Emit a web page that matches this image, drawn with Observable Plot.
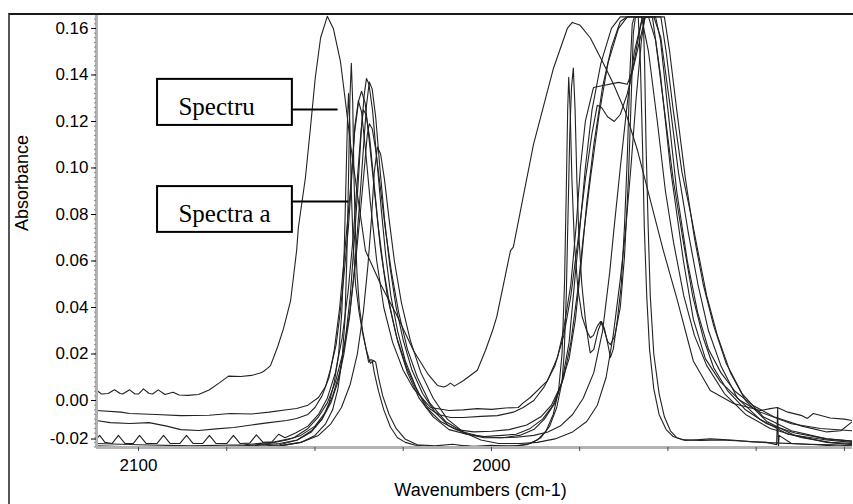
<!DOCTYPE html>
<html><head><meta charset="utf-8">
<script src="https://cdn.jsdelivr.net/npm/d3@7"></script>
<script src="https://cdn.jsdelivr.net/npm/@observablehq/plot@0.6"></script>
<style>
body{margin:0;background:#fff;}
#wrap{position:relative;width:853px;height:504px;overflow:hidden;background:#fff;}
#frame{position:absolute;left:8px;top:13px;width:845px;height:491px;border-top:2px solid #1a1a1a;border-left:2px solid #555;pointer-events:none;box-sizing:border-box;}
</style></head><body><div id="wrap"><div id="frame"></div></div>
<script>
// ---- data: [wavenumber (cm-1), absorbance] ----
const s0 = [[2111.9,0.0045],[2110.5,0.0028],[2108.6,0.0030],[2106.8,0.0046],[2105.2,0.0030],[2104.5,0.0028],[2102.5,0.0046],[2101,0.0028],[2100,0.0028],[2098.6,0.0050],[2097,0.0030],[2096,0.0028],[2094.4,0.0046],[2092.5,0.0026],[2090.2,0.0036],[2088.5,0.0024],[2086,0.0022],[2083,0.0026],[2080,0.0045],[2077,0.0077],[2074.5,0.0105],[2071,0.0103],[2068,0.0108],[2065.5,0.0118],[2064.6,0.0125],[2063.5,0.0138],[2062.6,0.015],[2060.6,0.023],[2058.9,0.031],[2056.9,0.043],[2056.1,0.053],[2055.2,0.0645],[2054.7,0.0744],[2052.7,0.0959],[2051.3,0.117],[2049.9,0.139],[2048.4,0.156],[2046.5,0.1652],[2044.8,0.160],[2042.8,0.146],[2041.4,0.129],[2039.9,0.110],[2038.0,0.089],[2035.7,0.0645],[2031.4,0.050],[2026.6,0.036],[2022.1,0.0215],[2018.1,0.0116],[2015.3,0.0065],[2013.5,0.0058],[2012.5,0.0065],[2011.6,0.0075],[2010.5,0.0062],[2007.9,0.0086],[2004,0.013],[2001.7,0.0215],[1999.7,0.030],[1998.5,0.036],[1994.6,0.0645],[1993.8,0.066],[1988.1,0.11],[1982.4,0.143],[1978.5,0.160],[1977.1,0.1626],[1975,0.1615],[1972,0.156],[1968.3,0.145],[1965.4,0.136],[1962,0.124],[1958.6,0.1075],[1951.3,0.0645],[1947.3,0.043],[1942.8,0.017],[1938,0.0043],[1931.4,-0.0013],[1923.8,-0.0043],[1921,-0.0035],[1919,-0.003],[1916,-0.005],[1912,-0.0065],[1910.5,-0.0077],[1908.8,-0.0056],[1904,-0.0075],[1900,-0.008],[1897.7,-0.0086]];

const s1 = [[2111.9,-0.0043],[2105,-0.0050],[2102.5,-0.0056],[2095,-0.0060],[2088,-0.0065],[2080,-0.0063],[2074,-0.0056],[2068,-0.0058],[2063,-0.0050],[2058,-0.0040],[2055.2,-0.0034],[2052,-0.0020],[2049,0.0013],[2047,0.006],[2045.5,0.014],[2044,0.024],[2043,0.036],[2041.9,0.052],[2040.5,0.075],[2039.5,0.098],[2038.7,0.118],[2037.7,0.129],[2036.8,0.124],[2035.7,0.108],[2034.3,0.085],[2032.5,0.060],[2030.5,0.040],[2028,0.025],[2025,0.013],[2022,0.005],[2019,0.0],[2017.3,-0.003],[2012,-0.0043],[2008,-0.0040],[2004,-0.0035],[2000,-0.0038],[1996,-0.0032],[1992.4,-0.0030],[1991,-0.001],[1989,0.0013],[1984.1,0.0086],[1981.3,0.0185],[1979.6,0.030],[1977.5,0.05],[1976,0.075],[1974.8,0.10],[1973.4,0.12],[1971.1,0.1346],[1968.3,0.1355],[1964,0.1368],[1961.5,0.136],[1960,0.142],[1958.5,0.155],[1957.2,0.165],[1954.4,0.165],[1952.1,0.14],[1949.3,0.10],[1945.6,0.06],[1942.8,0.035],[1939.4,0.018],[1935.1,0.008],[1929.5,0.0],[1923.8,-0.005],[1915,-0.010],[1906.8,-0.012],[1897.7,-0.013]];

const s2 = [[2111.9,-0.0086],[2108,-0.0095],[2102.5,-0.0099],[2097,-0.0095],[2092,-0.011],[2088,-0.0125],[2083,-0.0129],[2078,-0.0122],[2073,-0.0116],[2068,-0.0105],[2063,-0.0095],[2058,-0.0086],[2055.2,-0.0077],[2052,-0.006],[2050,-0.003],[2048,0.002],[2046,0.010],[2044.5,0.022],[2043,0.040],[2041.5,0.065],[2040,0.090],[2038.8,0.115],[2037.6,0.129],[2036.8,0.133],[2035.8,0.128],[2034.5,0.110],[2033,0.088],[2031.5,0.066],[2029.5,0.045],[2027,0.028],[2024,0.014],[2021,0.004],[2018,-0.003],[2015,-0.0060],[2011.6,-0.0073],[2007.9,-0.0073],[2003,-0.0068],[1998.3,-0.0065],[1993.8,-0.0050],[1991,-0.003],[1988,0.0],[1985,0.006],[1982,0.015],[1979.5,0.028],[1977.5,0.045],[1975.4,0.070],[1973.4,0.095],[1971.5,0.115],[1970,0.127],[1968.8,0.126],[1967.1,0.122],[1965.2,0.120],[1963.5,0.123],[1961.5,0.132],[1959.5,0.145],[1957.5,0.158],[1956.4,0.165],[1953.5,0.165],[1952.1,0.155],[1950,0.125],[1947.5,0.09],[1944.5,0.06],[1941.6,0.038],[1938.5,0.022],[1935,0.012],[1931,0.004],[1926,-0.002],[1920,-0.007],[1912,-0.011],[1905,-0.0135],[1901,-0.013],[1897.7,-0.009]];

const s3 = [[2111.9,-0.0195],[2100,-0.020],[2090,-0.0205],[2080,-0.0200],[2070,-0.0195],[2063,-0.0185],[2058,-0.0170],[2054,-0.0150],[2050,-0.0110],[2047,-0.005],[2045,0.002],[2043,0.012],[2041.4,0.026],[2040,0.045],[2038.8,0.070],[2037.7,0.095],[2036.8,0.118],[2036,0.132],[2035.4,0.1385],[2034.7,0.136],[2033.7,0.125],[2032.5,0.104],[2031.2,0.082],[2030,0.063],[2028.5,0.045],[2026.6,0.030],[2024.4,0.017],[2021.5,0.006],[2018.5,-0.003],[2014.4,-0.009],[2010,-0.0125],[2005,-0.0135],[2000,-0.0132],[1995,-0.0125],[1990,-0.0105],[1986,-0.007],[1983,-0.002],[1980.5,0.006],[1978,0.018],[1976.2,0.035],[1974.5,0.060],[1973,0.085],[1971,0.110],[1968.5,0.135],[1966,0.152],[1963.5,0.163],[1961.5,0.165],[1955.5,0.165],[1953.5,0.155],[1951,0.125],[1948.5,0.095],[1945.6,0.068],[1943,0.045],[1940,0.027],[1937,0.014],[1933,0.004],[1928,-0.004],[1922,-0.010],[1914,-0.014],[1905,-0.0165],[1897.7,-0.0175]];

const s4 = [[2111.9,-0.0205],[2095,-0.021],[2080,-0.0208],[2068,-0.020],[2060,-0.019],[2055,-0.017],[2051,-0.013],[2048,-0.008],[2045.5,-0.001],[2043.5,0.008],[2041.8,0.020],[2040.2,0.036],[2038.8,0.057],[2037.5,0.082],[2036.3,0.108],[2035.4,0.127],[2034.6,0.137],[2033.8,0.134],[2032.8,0.122],[2031.6,0.100],[2030.3,0.078],[2028.8,0.058],[2027,0.040],[2025,0.026],[2022.5,0.013],[2019.5,0.003],[2016,-0.005],[2012,-0.011],[2007,-0.0145],[2002,-0.016],[1997,-0.016],[1992,-0.0150],[1988,-0.0125],[1985,-0.008],[1982,-0.001],[1979.5,0.010],[1977.5,0.025],[1975.5,0.048],[1974,0.070],[1972,0.095],[1969.5,0.123],[1967,0.145],[1964,0.160],[1961.5,0.165],[1954,0.165],[1952,0.156],[1949.5,0.128],[1947,0.098],[1944.2,0.072],[1941.5,0.050],[1938.5,0.030],[1935,0.015],[1930.3,0.001],[1924,-0.008],[1916,-0.0145],[1905,-0.017],[1897.7,-0.018]];

const s5 = [[2111.9,-0.0185],[2100,-0.019],[2085,-0.0195],[2070,-0.019],[2062,-0.018],[2056,-0.016],[2052,-0.012],[2049,-0.007],[2046.5,-0.001],[2044.2,0.008],[2042,0.021],[2040.2,0.037],[2038.6,0.058],[2037.2,0.080],[2036,0.100],[2035.2,0.114],[2034.6,0.119],[2033.8,0.117],[2032.8,0.108],[2031.5,0.092],[2030,0.073],[2028.3,0.055],[2026.3,0.038],[2023.8,0.022],[2021,0.010],[2017.5,-0.001],[2013,-0.009],[2008,-0.0135],[2003,-0.0155],[1998,-0.016],[1993,-0.0158],[1988,-0.015],[1984,-0.0135],[1980.5,-0.011],[1977,-0.006],[1974,0.001],[1971,0.012],[1968.5,0.030],[1966.5,0.055],[1965.2,0.075],[1963.5,0.100],[1961.5,0.128],[1959.5,0.150],[1957.5,0.163],[1956.4,0.165],[1951,0.165],[1949.5,0.150],[1947.5,0.125],[1945,0.095],[1942.5,0.070],[1940,0.050],[1937,0.032],[1933.5,0.016],[1929,0.003],[1923,-0.007],[1915,-0.013],[1905,-0.0165],[1897.7,-0.0175]];

const s6 = [[2111.9,-0.020],[2100,-0.0205],[2085,-0.0210],[2070,-0.0205],[2060,-0.0195],[2054,-0.0180],[2049,-0.015],[2045.5,-0.010],[2042.5,-0.003],[2040,0.007],[2038,0.020],[2036.3,0.038],[2035,0.058],[2034,0.078],[2033.2,0.098],[2032.3,0.109],[2031.4,0.106],[2030.3,0.095],[2029,0.078],[2027.5,0.060],[2025.5,0.042],[2023,0.026],[2020,0.012],[2016.5,0.001],[2012.5,-0.008],[2008,-0.0135],[2003,-0.017],[1998,-0.0185],[1992,-0.0185],[1987,-0.018],[1982,-0.0165],[1977,-0.0135],[1973,-0.009],[1970,-0.002],[1967.5,0.010],[1965.5,0.028],[1963.5,0.052],[1962,0.073],[1960.5,0.100],[1959,0.130],[1957.5,0.155],[1956.5,0.165],[1952,0.165],[1950.5,0.150],[1948.5,0.125],[1946,0.098],[1943.5,0.080],[1941.6,0.065],[1939,0.045],[1936,0.028],[1932.3,0.012],[1928,0.0],[1922,-0.009],[1914,-0.015],[1905,-0.018],[1897.7,-0.019]];

const s7 = [[2111.9,-0.021],[2095,-0.0215],[2080,-0.021],[2068,-0.0205],[2060,-0.0195],[2054,-0.018],[2050,-0.015],[2047,-0.010],[2045,-0.004],[2043.5,0.005],[2042.3,0.018],[2041.5,0.035],[2041,0.060],[2040.5,0.095],[2040.1,0.130],[2039.7,0.145],[2039.3,0.128],[2039,0.100],[2038.6,0.075],[2038.1,0.055],[2037.4,0.040],[2036.5,0.030],[2035.5,0.022],[2034.8,0.0165],[2034.3,0.0175],[2033.8,0.0175],[2033.2,0.012],[2032,0.004],[2030.5,-0.004],[2028.6,-0.0115],[2026.6,-0.016],[2024.4,-0.018],[2021.5,-0.0192],[2017,-0.0198],[2012,-0.0200],[2007,-0.0195],[2003,-0.0200],[1998,-0.0195],[1993,-0.0195],[1989,-0.0185],[1986,-0.016],[1983.5,-0.011],[1981.5,-0.003],[1980,0.008],[1979.4,0.02],[1978.8,0.045],[1978.3,0.080],[1977.8,0.115],[1977.3,0.135],[1976.8,0.143],[1976.3,0.125],[1975.8,0.095],[1975.2,0.070],[1974.4,0.050],[1973.4,0.035],[1972.4,0.024],[1972,0.0205],[1971,0.022],[1969.8,0.030],[1968.8,0.034],[1968,0.031],[1967,0.024],[1966.3,0.0185],[1965.5,0.022],[1964.3,0.035],[1963.2,0.050],[1962.3,0.075],[1961.5,0.105],[1960.8,0.140],[1960.1,0.162],[1959.5,0.165],[1958.4,0.165],[1957.8,0.145],[1957.2,0.110],[1956.7,0.075],[1956,0.045],[1955.2,0.022],[1954,0.005],[1952.5,-0.006],[1950.5,-0.0125],[1948.5,-0.0155],[1946,-0.0168],[1940.8,-0.0172],[1935,-0.017],[1928,-0.0175],[1922,-0.018],[1919.2,-0.019],[1918.9,-0.003],[1918.7,-0.0205],[1918.5,-0.015],[1915,-0.0185],[1908,-0.019],[1903,-0.0195],[1897.7,-0.020]];

const s8 = [[2111.9,-0.0200],[2095,-0.0205],[2080,-0.0200],[2068,-0.0195],[2060,-0.0185],[2055,-0.017],[2051,-0.0135],[2048,-0.008],[2046,-0.001],[2044.5,0.008],[2043.3,0.020],[2042.4,0.038],[2041.7,0.065],[2041.2,0.095],[2040.8,0.120],[2040.5,0.132],[2040.1,0.118],[2039.7,0.090],[2039.2,0.068],[2038.5,0.050],[2037.5,0.038],[2036.5,0.029],[2035.5,0.022],[2034.3,0.016],[2033.4,0.0172],[2032.8,0.0165],[2032,0.010],[2030.8,0.002],[2029,-0.006],[2027,-0.012],[2024.5,-0.0165],[2021,-0.019],[2016,-0.0195],[2011,-0.0188],[2006,-0.0198],[2000,-0.0192],[1995,-0.0198],[1990,-0.019],[1987,-0.017],[1984.5,-0.013],[1982.5,-0.006],[1981,0.004],[1980,0.020],[1979.3,0.050],[1978.8,0.090],[1978.4,0.125],[1978.1,0.139],[1977.7,0.125],[1977.2,0.095],[1976.5,0.068],[1975.5,0.048],[1974.3,0.036],[1973,0.030],[1972,0.027],[1971.1,0.028],[1970,0.032],[1969.1,0.034],[1968.2,0.031],[1967.1,0.0255],[1966.3,0.024],[1965,0.028],[1963.5,0.040],[1962.3,0.062],[1961.2,0.095],[1960.4,0.130],[1959.8,0.158],[1959.2,0.165],[1957,0.165],[1956.6,0.145],[1956.2,0.110],[1955.6,0.075],[1955,0.045],[1954,0.020],[1952.5,0.003],[1951,-0.007],[1949.3,-0.013],[1947.5,-0.016],[1945,-0.0172],[1938,-0.0165],[1932,-0.017],[1926,-0.0178],[1920,-0.0182],[1910,-0.0188],[1903,-0.019],[1897.7,-0.0195]];

const s9 = [[2111.9,-0.0165],[2111,-0.0150],[2109.5,-0.0180],[2107.5,-0.0185],[2105.7,-0.0150],[2103.8,-0.0185],[2101.5,-0.0185],[2099.7,-0.0150],[2097.8,-0.0185],[2094.8,-0.0185],[2092.9,-0.0150],[2091,-0.0185],[2088.3,-0.0185],[2086.4,-0.0150],[2084.5,-0.0185],[2081.8,-0.0185],[2079.9,-0.0150],[2078,-0.0185],[2075,-0.0185],[2073.1,-0.0150],[2071.2,-0.0185],[2068.5,-0.0183],[2066.6,-0.0148],[2064.7,-0.0180],[2062.2,-0.0178],[2060.3,-0.0145],[2058.5,-0.0160],[2055.5,-0.0140],[2052,-0.011],[2049,-0.006],[2046.5,0.001],[2044.2,0.012],[2042.3,0.027],[2040.6,0.047],[2039.2,0.070],[2038,0.095],[2037,0.115],[2036.3,0.125],[2035.5,0.123],[2034.5,0.113],[2033.3,0.094],[2032,0.074],[2030.5,0.056],[2028.7,0.040],[2026.5,0.025],[2023.8,0.012],[2020.5,0.001],[2016.5,-0.007],[2012,-0.0125],[2007,-0.0145],[2002,-0.0155],[1997,-0.0150],[1993,-0.0145],[1989,-0.012],[1985.5,-0.008],[1982.5,-0.002],[1980,0.008],[1978,0.025],[1976.2,0.055],[1975,0.073],[1973.4,0.100],[1971.5,0.125],[1969,0.145],[1966,0.160],[1963.5,0.165],[1957.5,0.165],[1955.5,0.150],[1953,0.120],[1950.7,0.090],[1948.4,0.068],[1945.5,0.045],[1942.5,0.028],[1939,0.015],[1934,0.003],[1928,-0.006],[1921,-0.012],[1912,-0.016],[1904,-0.018],[1897.7,-0.0185]];

const spectra = [s0, s1, s2, s3, s4, s5, s6, s7, s8, s9];

const xDomain = [2111.9, 1897.7];
const yDomain = [-0.0202, 0.166];
const yTickValues = [0, 0.02, 0.04, 0.06, 0.08, 0.10, 0.12, 0.14, 0.16];
const yBottomTick = [-0.02];
const yMinorTicks = d3.range(-20, 166, 2).map(v => v / 1000);
const xTickLabels = [2100, 2000];
const xMinorTicks = [2100, 2075, 2050, 2025, 2000, 1975, 1950, 1925, 1900];
const xTitle = "Wavenumbers (cm-1)";
const yTitle = "Absorbance";

// annotation boxes (data coordinates)
const boxLabels = ["Spectru", "Spectra a"];
const boxX = [[2094.6, 2056.4], [2094.6, 2056.4]];
const boxY = [[0.1183, 0.1381], [0.0723, 0.0920]];
const boxTextAt = [[2088.7, 0.1226], [2088.7, 0.0766]];
const leaderLines = [[2056.4, 2043.6, 0.1252], [2056.4, 2040.5, 0.0856]];

const rows = spectra.flatMap((s, i) => s.map(([wn, a]) => ({wn, a, id: i})));
const boxes = boxLabels.map((t, i) => ({t, x1: boxX[i][0], x2: boxX[i][1], y1: boxY[i][0], y2: boxY[i][1], tx: boxTextAt[i][0], ty: boxTextAt[i][1]}));
const leaders = leaderLines.map(([x1, x2, y]) => ({x1, x2, y}));

const sans = "Liberation Sans, Arial, sans-serif";
const chart = Plot.plot({
  width: 853, height: 504,
  marginLeft: 96, marginRight: 1, marginTop: 14, marginBottom: 57,
  style: {fontFamily: sans, color: "#000", background: "transparent", overflow: "visible"},
  x: {domain: xDomain},
  y: {domain: yDomain},
  marks: [
    Plot.line(rows, {x: "wn", y: "a", z: "id", stroke: "#222", strokeWidth: 1.1, clip: true}),
    Plot.ruleY([yDomain[0]], {stroke: "#b3b3b3", strokeWidth: 3}),
    Plot.ruleX([xDomain[0]], {stroke: "#b3b3b3", strokeWidth: 3}),
    Plot.axisY(yMinorTicks, {anchor: "left", tickSize: 2, tickFormat: () => "", stroke: "#8a8a8a"}),
    Plot.axisY(yTickValues, {anchor: "left", tickSize: 5, tickPadding: 3, fontSize: 17, tickFormat: d => d.toFixed(2), label: null}),
    Plot.axisY(yBottomTick, {anchor: "left", tickSize: 5, tickPadding: 3, fontSize: 17, dy: -8, tickFormat: d => d.toFixed(2), label: null}),
    Plot.axisX(xMinorTicks, {anchor: "bottom", tickSize: 4, tickFormat: () => "", stroke: "#444", label: null}),
    Plot.axisX(xTickLabels, {anchor: "bottom", tickSize: 0, tickPadding: 11, fontSize: 17, tickFormat: d => String(d), label: null}),
    Plot.text([xTitle], {frameAnchor: "bottom", dy: 48, dx: 6, fontSize: 18, fill: "#000"}),
    Plot.text([yTitle], {frameAnchor: "left", dx: -74, rotate: -90, fontSize: 18, fill: "#000"}),
    Plot.rect(boxes, {x1: "x1", x2: "x2", y1: "y1", y2: "y2", fill: "#fff", stroke: "#000", strokeWidth: 2}),
    Plot.text(boxes, {x: "tx", y: "ty", text: "t", textAnchor: "start", lineAnchor: "bottom", fontFamily: "Liberation Serif, Times New Roman, serif", fontSize: 25, fill: "#000"}),
    Plot.link(leaders, {x1: "x1", x2: "x2", y1: "y", y2: "y", stroke: "#000", strokeWidth: 2})
  ]
});
document.getElementById("wrap").insertBefore(chart, document.getElementById("frame"));
</script>
</body></html>
